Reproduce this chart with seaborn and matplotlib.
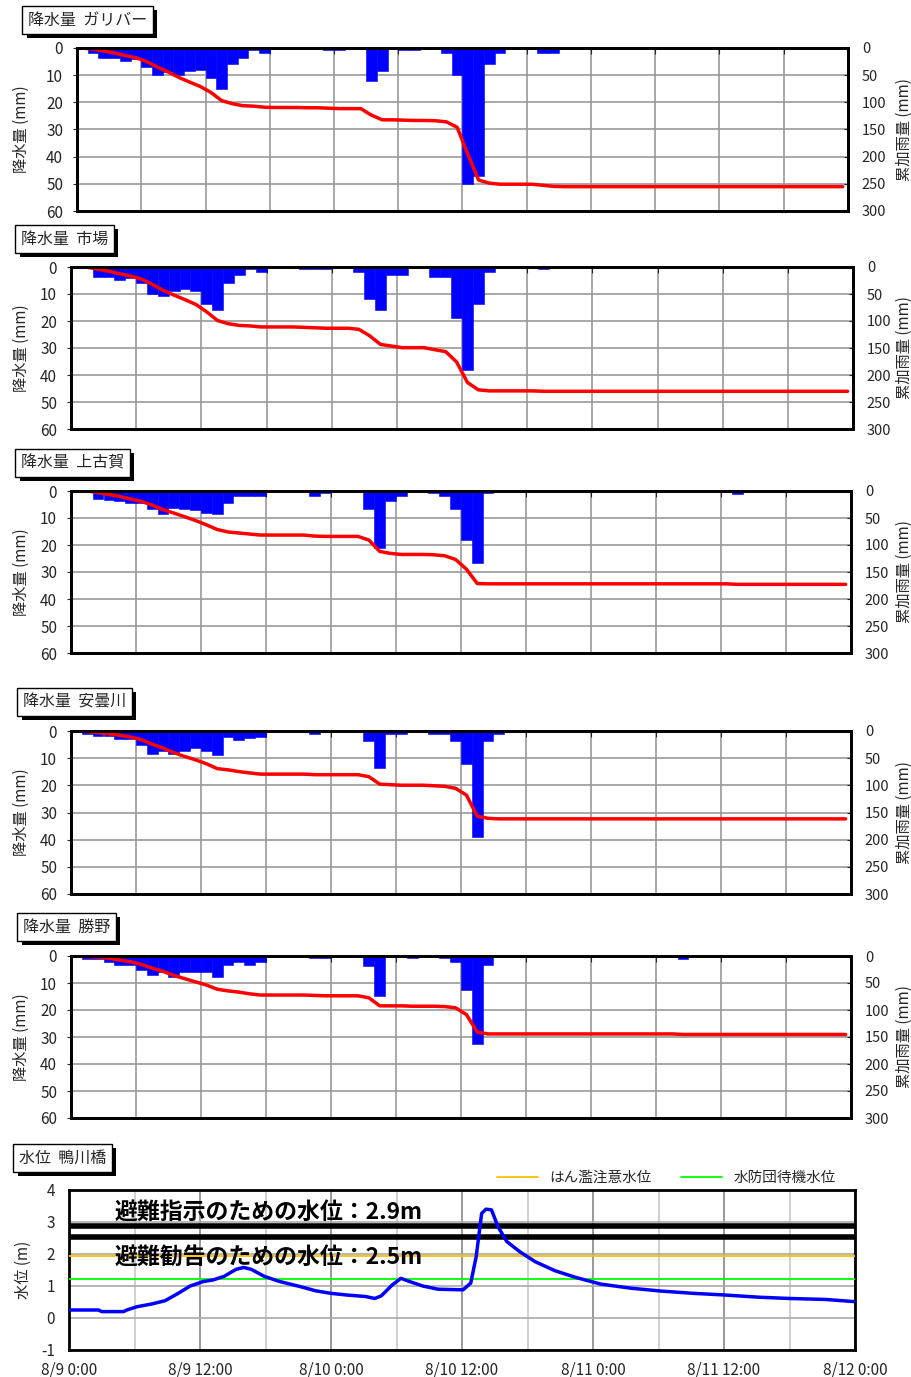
import numpy as np
import pandas as pd
import matplotlib
matplotlib.use("Agg")
import matplotlib.pyplot as plt
import matplotlib.patheffects as pe
from matplotlib.lines import Line2D
import seaborn as sns

sns.set_style("white")
plt.rcParams["font.family"] = ["Noto Sans CJK JP", "DejaVu Sans"]
plt.rcParams["axes.unicode_minus"] = False

# hourly rainfall (mm), 8/9 0:00 -> 8/12 0:00, 12 values per row = 12 hours
hours = np.arange(72)

rain_gulliver = [0, 2, 3.6, 3.6, 4.8, 4, 7, 10, 9, 10, 8.6, 8.1,
                 11, 15, 5.8, 3.7, 0.8, 2, 0.5, 0, 0, 0.5, 0, 0.8,
                 0.8, 0, 0, 12, 8.6, 0, 0.6, 0.6, 0, 0.5, 2, 10,
                 50, 47, 5.8, 2, 0, 0, 0, 2, 2, 0.5, 0, 0,
                 0, 0, 0, 0, 0, 0, 0, 0, 0, 0, 0, 0,
                 0, 0, 0, 0, 0, 0, 0, 0, 0, 0, 0, 0]
rain_ichiba = [0, 0.5, 3.7, 3.7, 4.7, 4, 5.9, 9.9, 10.9, 8.9, 8.3, 8.9,
               13.8, 16, 5.9, 3.1, 0.9, 1.9, 0, 0, 0, 0.8, 0.8, 0.8,
               0, 0, 2, 12, 16, 3, 3, 0, 0, 3.7, 3.7, 19,
               38, 13.6, 2, 0, 0, 0, 0, 0.8, 0, 0, 0, 0,
               0, 0, 0, 0, 0, 0, 0, 0, 0, 0, 0, 0,
               0, 0, 0, 0, 0, 0, 0, 0, 0, 0, 0, 0]
rain_kamikoga = [0, 0, 3, 3.5, 3.7, 4.5, 4.6, 6.8, 8.6, 6.2, 6.8, 7,
                 8, 8.6, 4.6, 1.9, 1.9, 1.9, 0, 0, 0, 0, 1.9, 0.6,
                 0, 0, 0, 6.8, 21, 3.7, 1.9, 0, 0, 0.6, 1.9, 6.8,
                 18, 26.5, 0.6, 0, 0, 0, 0, 0, 0, 0, 0, 0,
                 0, 0, 0, 0, 0, 0, 0, 0, 0, 0, 0, 0,
                 0, 1, 0, 0, 0, 0, 0, 0, 0, 0, 0, 0]
rain_adogawa = [0, 1, 2, 2, 3, 3, 5, 8.3, 7.2, 8.3, 7.2, 6.1,
                7.2, 9, 2.2, 3.2, 2.5, 2.2, 0, 0, 0, 0, 1, 0,
                0, 0, 0, 3.8, 13.6, 1, 1, 0, 0, 1, 1, 3.8,
                12.3, 39, 3.8, 1, 0, 0, 0, 0, 0, 0, 0, 0,
                0, 0, 0, 0, 0, 0, 0, 0, 0, 0, 0, 0,
                0, 0, 0, 0, 0, 0, 0, 0, 0, 0, 0, 0]
rain_katsuno = [0, 1, 1, 2.2, 3.2, 3.2, 5, 6.9, 5.9, 7.7, 5.9, 5.9,
                5.9, 7.7, 3.2, 2.2, 3.2, 2.2, 0, 0, 0, 0, 0.7, 0.7,
                0, 0, 0, 3.8, 14.8, 0, 0, 0.7, 0, 0, 0.7, 2.2,
                12.6, 32.6, 3.2, 0, 0, 0, 0, 0, 0, 0, 0, 0,
                0, 0, 0, 0, 0, 0, 0, 0, 1, 0, 0, 0,
                0, 0, 0, 0, 0, 0, 0, 0, 0, 0, 0, 0]

stations = ["ガリバー", "市場", "上古賀", "安曇川", "勝野"]
rain_by_station = [rain_gulliver, rain_ichiba, rain_kamikoga, rain_adogawa, rain_katsuno]

# water level at 鴨川橋 (m)
wl_hours = [0, 2.7, 3.0, 5.0, 5.3, 6.2, 7.6, 8.8, 10, 11.1,
            12.3, 13.2, 14.2, 15.3, 16.0, 16.7, 17.9, 19.3, 21.2, 22.6,
            24, 25.4, 27.2, 28.0, 28.6, 29.6, 30.4, 31.2, 32.4, 33.8,
            36.1, 36.8, 37.3, 37.8, 38.2, 38.7, 39.3, 40.1, 41.3, 42.7,
            44.5, 46.4, 48.7, 51.5, 54.3, 57.2, 60, 63.2, 66, 69.3, 72]
wl_level = [0.25, 0.25, 0.2, 0.2, 0.25, 0.35, 0.44, 0.54, 0.77, 1.0,
            1.14, 1.19, 1.3, 1.52, 1.58, 1.52, 1.3, 1.14, 0.98, 0.85,
            0.77, 0.72, 0.67, 0.61, 0.69, 1.03, 1.24, 1.14, 1.0, 0.9,
            0.88, 1.09, 1.92, 3.27, 3.4, 3.38, 2.85, 2.39, 2.07, 1.76,
            1.48, 1.27, 1.06, 0.93, 0.84, 0.77, 0.72, 0.65, 0.61, 0.58, 0.51]
caution_level = 1.95   # はん濫注意水位
standby_level = 1.22   # 水防団待機水位
order_line = 2.88
advice_line = 2.54
time_labels = ["8/9 0:00", "8/9 12:00", "8/10 0:00", "8/10 12:00",
               "8/11 0:00", "8/11 12:00", "8/12 0:00"]

W, H = 911, 1377
fig = plt.figure(figsize=(W / 100, H / 100), dpi=100)


def px_axes(l, t, r, b):
    return fig.add_axes([l / W, 1 - b / H, (r - l) / W, (b - t) / H])


def title_box(x, y, s):
    t = fig.text(x / W, 1 - y / H, s, fontsize=11.5, va="center", ha="left",
                 bbox=dict(boxstyle="square,pad=0.35", fc="white", ec="black", lw=1))
    t.get_bbox_patch().set_path_effects(
        [pe.SimplePatchShadow(offset=(3, -3), shadow_rgbFace="black", alpha=1), pe.Normal()])


def style_spines(a):
    for s in a.spines.values():
        s.set_color("black")
        s.set_linewidth(2)


rain_boxes = [(77, 48, 848, 211), (71, 267, 853, 429), (71, 491, 851, 653),
              (71, 731, 851, 894), (71, 956, 851, 1118)]
title_pos = [(28, 20), (21, 239), (21, 463), (23, 702), (23, 927)]

for i, (name, rain) in enumerate(zip(stations, rain_by_station)):
    l, t, r, b = rain_boxes[i]
    ax = px_axes(l, t, r, b)
    df = pd.DataFrame({"hour": hours + 0.5, "rain": rain})
    df["cum"] = np.cumsum(df["rain"])
    sns.histplot(data=df, x="hour", weights="rain", bins=72, binrange=(0, 72),
                 color="#0000ff", alpha=1, edgecolor="#0000ff", linewidth=0.4, ax=ax)
    ax.set_xlim(0, 72)
    ax.set_ylim(60, 0)
    ax.set_xticks(range(0, 73, 6))
    ax.set_yticks(range(0, 61, 10))
    ax.set_axisbelow(True)
    ax.grid(True, color="#999999", lw=1.2)
    ax.tick_params(axis="x", top=True, bottom=False, labeltop=False, labelbottom=False,
                   direction="in", length=4)
    ax.tick_params(axis="y", labelsize=11, length=3, pad=7)
    ax.set_xlabel("")
    ax.set_ylabel("降水量 (mm)", fontsize=11)
    ax.yaxis.set_label_coords((30 - l) / (r - l), 0.5)
    style_spines(ax)

    ax2 = ax.twinx()
    sns.lineplot(data=df, x="hour", y="cum", color="red", lw=2.5, ax=ax2)
    ax2.set_ylim(300, 0)
    ax2.set_yticks(range(0, 301, 50))
    ax2.tick_params(axis="y", labelsize=10.5, length=3, direction="in", pad=10)
    ax2.set_xlabel("")
    ax2.set_ylabel("累加雨量 (mm)", fontsize=11)
    ax2.yaxis.set_label_coords((896 - l) / (r - l), 0.5)
    style_spines(ax2)

    title_box(*title_pos[i], "降水量  " + name)

# water level panel
axw = px_axes(69, 1190, 855, 1350)
axw.axhline(caution_level, color="#ffc000", lw=1.3, zorder=3)
axw.axhline(standby_level, color="#00ff00", lw=1.3, zorder=3)
axw.axhline(order_line, color="black", lw=4, zorder=3)
axw.axhline(advice_line, color="black", lw=4, zorder=3)
sns.lineplot(x=wl_hours, y=wl_level, color="#0000ff", lw=2.5, ax=axw, zorder=5)
axw.set_xlim(0, 72)
axw.set_ylim(-1, 4)
axw.set_xticks(range(0, 73, 12))
axw.set_xticklabels(time_labels, fontsize=11)
axw.set_xticks(range(6, 72, 12), minor=True)
axw.set_yticks(range(-1, 5))
axw.set_axisbelow(True)
axw.grid(which="major", axis="x", color="#888888", lw=1.2)
axw.grid(which="minor", axis="x", color="#c8c8c8", lw=1.2)
axw.grid(which="major", axis="y", color="#aaaaaa", lw=1.2)
axw.tick_params(axis="x", which="both", direction="in", length=4, pad=8)
axw.tick_params(axis="y", labelsize=11, length=3, pad=7)
axw.set_xlabel("")
axw.set_ylabel("水位 (m)", fontsize=11)
axw.yaxis.set_label_coords((32 - 69) / 786, 0.5)
style_spines(axw)

axw.text(4.2, 3.31, "避難指示のための水位：2.9m", fontsize=16.5, fontweight="bold",
         color="black", va="center", ha="left", zorder=6)
axw.text(4.2, 1.90, "避難勧告のための水位：2.5m", fontsize=16.5, fontweight="bold",
         color="black", va="center", ha="left", zorder=6)

handles = [Line2D([], [], color="#ffc000", lw=1.3), Line2D([], [], color="#00ff00", lw=1.3)]
axw.legend(handles, ["はん濫注意水位", "水防団待機水位"], ncol=2, frameon=False, fontsize=10.5,
           loc="center right", bbox_to_anchor=((842 - 69) / 786, (1350 - 1178) / 160),
           borderaxespad=0, handlelength=2.8, columnspacing=2.0, handletextpad=0.8)

title_box(19, 1158, "水位  鴨川橋")

fig.savefig("out.png", dpi=100)
